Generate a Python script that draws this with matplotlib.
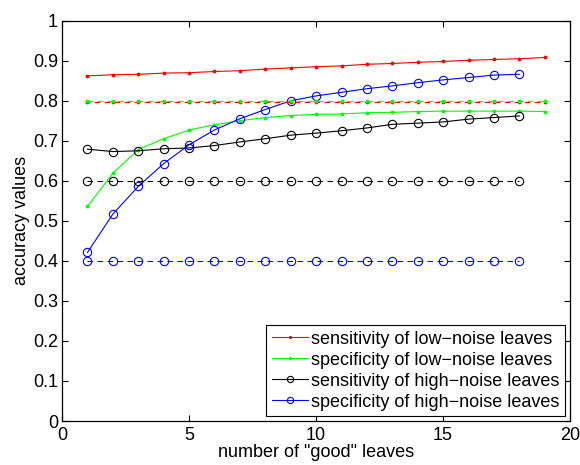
import numpy as np
import matplotlib.pyplot as plt

plt.rcParams['font.family'] = ['Liberation Sans', 'DejaVu Sans']

# data
x_low = list(range(1, 20))
x_high = list(range(1, 19))

sens_low = [0.862, 0.865, 0.866, 0.869, 0.870, 0.873, 0.875, 0.879, 0.882, 0.885,
            0.887, 0.891, 0.893, 0.896, 0.898, 0.901, 0.903, 0.905, 0.908]
spec_low = [0.536, 0.619, 0.678, 0.705, 0.727, 0.740, 0.750, 0.758, 0.763, 0.766,
            0.767, 0.770, 0.771, 0.773, 0.774, 0.774, 0.774, 0.774, 0.773]
sens_high = [0.679, 0.673, 0.675, 0.680, 0.682, 0.688, 0.697, 0.705, 0.714, 0.719,
             0.725, 0.732, 0.741, 0.744, 0.747, 0.754, 0.758, 0.762]
spec_high = [0.421, 0.517, 0.586, 0.643, 0.690, 0.727, 0.755, 0.778, 0.800, 0.812,
             0.821, 0.830, 0.837, 0.845, 0.852, 0.858, 0.864, 0.866]

# reference (true) levels, dashed
ref_sens_low = [0.797] * len(x_low)
ref_spec_low = [0.800] * len(x_low)
ref_sens_high = [0.600] * len(x_high)
ref_spec_high = [0.400] * len(x_high)

labels = ['sensitivity of low\u2212noise leaves',
          'specificity of low\u2212noise leaves',
          'sensitivity of high\u2212noise leaves',
          'specificity of high\u2212noise leaves']

fig = plt.figure(figsize=(5.8, 4.65), dpi=100)
ax = fig.add_axes([0.107, 0.0946, 0.876, 0.861])

lw = 0.8
ms_o = 6
ms_d = 3.5
dsh = (5, 4)

l1, = ax.plot(x_low, sens_low, '-', color='red', marker='.', ms=ms_d, lw=lw)
l2, = ax.plot(x_low, spec_low, '-', color='#00ff00', marker='.', ms=ms_d, lw=lw)
l3, = ax.plot(x_high, sens_high, '-', color='black', marker='o', ms=ms_o, mfc='none', lw=lw, mew=0.8)
l4, = ax.plot(x_high, spec_high, '-', color='blue', marker='o', ms=ms_o, mfc='none', lw=lw, mew=0.8)

ax.plot(x_low, ref_sens_low, color='red', marker='.', ms=ms_d, lw=lw, linestyle=(2.5, dsh))
ax.plot(x_low, ref_spec_low, color='#00ff00', marker='.', ms=ms_d, lw=lw, linestyle=(0, dsh))
ax.plot(x_high, ref_sens_high, color='black', marker='o', ms=ms_o, mfc='none', lw=lw, mew=0.8, linestyle=(0, dsh))
ax.plot(x_high, ref_spec_high, color='blue', marker='o', ms=ms_o, mfc='none', lw=lw, mew=0.8, linestyle=(0, dsh))

ax.set_xlim(0, 20)
ax.set_ylim(0, 1)
ax.set_xticks([0, 5, 10, 15, 20])
ax.set_yticks(np.arange(0, 1.01, 0.1))
ax.set_yticklabels(['0', '0.1', '0.2', '0.3', '0.4', '0.5', '0.6', '0.7', '0.8', '0.9', '1'])
ax.tick_params(direction='in', top=True, right=True, labelsize=13, length=4, width=0.8)
ax.tick_params(axis='x', pad=4)
ax.tick_params(axis='y', pad=3)
for s in ax.spines.values():
    s.set_linewidth(0.9)

ax.set_xlabel('number of "good" leaves', fontsize=13, labelpad=0)
ax.set_ylabel('accuracy values', fontsize=13, labelpad=2)

leg = ax.legend([l1, l2, l3, l4], labels, loc='lower right', fontsize=13,
                fancybox=False, edgecolor='black', framealpha=1,
                handlelength=2.0, handletextpad=0.2, labelspacing=0.22,
                borderpad=0.3, borderaxespad=0.28, markerscale=0.75)
leg.get_frame().set_linewidth(0.8)

fig.savefig('out.png', dpi=100)
